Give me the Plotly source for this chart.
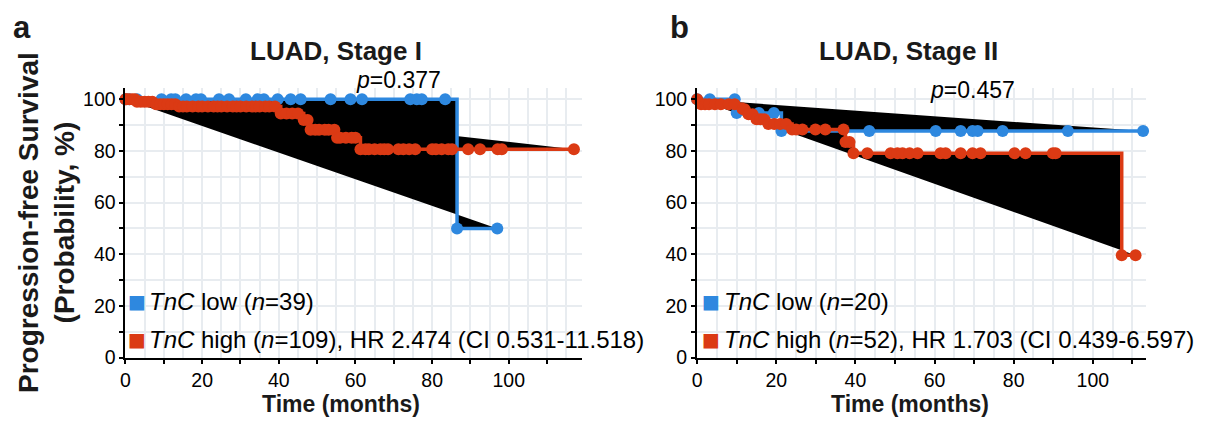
import numpy as np
import plotly.graph_objects as go

# ---------------- data ----------------
# Panel a: LUAD, Stage I
a_low_event_t = [0, 86.5]
a_low_event_s = [100, 50]
a_low_cens_t = [1, 3, 9.4, 11.9, 13, 15.8, 18.4, 19.7, 24.4, 27, 31.4, 34.5, 36.1,
                39.7, 43.1, 45.7, 53.5, 58.7, 61.7, 74.3, 76, 77.3, 83.4, 97]

a_high_event_t = [0, 3, 8, 14, 40.5, 46.5, 48.3, 55.2, 61.3]
a_high_event_s = [100, 99.1, 98.1, 97.2, 94.5, 92.0, 88.2, 85.1, 80.7]
a_high_cens_t = [0.3, 1, 1.8, 2.5, 4, 5, 6, 7, 9, 10, 11, 12, 13,
                 15, 16, 17.5, 19, 20, 21.5, 23, 24, 25, 26.5, 28, 29, 30, 31.5, 33, 34,
                 35, 36.5, 37.5, 39, 42, 43.5, 45, 47.5, 49.5, 50.5, 52, 53, 54.5,
                 56, 57.5, 59, 60, 62.6, 63.5, 65, 66.5, 67.5, 68.5, 71.2, 72.5, 74,
                 75.6, 80, 81, 82.5, 84.2, 85.2, 89.4, 92.5, 97.1, 98.2, 117]

# Panel b: LUAD, Stage II
b_low_event_t = [0, 10, 21.3]
b_low_event_s = [100, 94.7, 87.7]
b_low_cens_t = [3.2, 9.5, 15.6, 19.4, 43.5, 60.3, 66.6, 69.6, 70.9, 77.2, 93.7, 112.7]

b_high_event_t = [0, 1, 11.5, 13, 15, 18, 24, 37.5, 39.5, 107.3]
b_high_event_s = [100, 98.1, 96.2, 94.2, 92.3, 90.4, 88.3, 83.5, 79.1, 39.6]
b_high_cens_t = [2, 3, 4.5, 6, 8, 9.5, 12, 14, 16, 17, 19.5, 21, 22.5, 25, 26.6,
                 29.9, 32.4, 37, 38.5, 43, 48.9, 50.6, 51.9, 53.7, 55.7, 61.5, 62.8,
                 66.6, 69.6, 71.6, 80.2, 83, 89.9, 90.6, 110.8]

titles = ["LUAD, Stage I", "LUAD, Stage II"]
pvalues = ["0.377", "0.457"]
legend_low = ["<i>TnC</i> low (<i>n</i>=39)", "<i>TnC</i> low (<i>n</i>=20)"]
legend_high = ["<i>TnC</i> high (<i>n</i>=109), HR 2.474 (CI 0.531-11.518)",
               "<i>TnC</i> high (<i>n</i>=52), HR 1.703 (CI 0.439-6.597)"]
x_ticks = list(range(0, 120, 10))
y_ticks = list(range(0, 110, 10))

BLUE = "#2E88DF"
RED = "#DB3A14"
FONT = "Liberation Sans, Arial, sans-serif"
W, H = 1209, 429
DX = -3      # horizontal adjustment


def km_points(event_t, event_s, cens_t):
    et = np.asarray(event_t, float)
    es = np.asarray(event_s, float)
    ct = np.asarray(cens_t, float)
    idx = np.searchsorted(et, ct, side="right") - 1
    cs = es[idx]
    t = np.concatenate([et, ct])
    s = np.concatenate([es, cs])
    order = np.argsort(t, kind="stable")
    return t[order], s[order]


def px(x):
    return (x + DX) / W


def py(y):
    return 1 - y / H


fig = go.Figure()

panels = [
    ("x", "y", [(a_low_event_t, a_low_event_s, a_low_cens_t, BLUE),
                (a_high_event_t, a_high_event_s, a_high_cens_t, RED)]),
    ("x2", "y2", [(b_low_event_t, b_low_event_s, b_low_cens_t, BLUE),
                  (b_high_event_t, b_high_event_s, b_high_cens_t, RED)]),
]

# black polygon fills first (drawn underneath)
for xa, ya, groups in panels:
    for et, es, ct, col in groups:
        t, s = km_points(et, es, ct)
        fig.add_trace(go.Scatter(x=t, y=s, xaxis=xa, yaxis=ya, mode="lines",
                                 line=dict(width=0, shape="hv"), fill="toself",
                                 fillcolor="black", hoverinfo="skip", showlegend=False))
# curves
for xa, ya, groups in panels:
    for et, es, ct, col in groups:
        t, s = km_points(et, es, ct)
        fig.add_trace(go.Scatter(x=t, y=s, xaxis=xa, yaxis=ya, mode="lines+markers",
                                 line=dict(width=3.5, shape="hv", color=col),
                                 marker=dict(size=12, color=col),
                                 cliponaxis=False, showlegend=False))

x_ticktext = [str(v) if v % 20 == 0 else "" for v in x_ticks]
y_ticktext = [str(v) if v % 20 == 0 else "" for v in y_ticks]

axis_common = dict(showline=True, linecolor="black", linewidth=2, ticks="outside",
                   ticklen=4, tickwidth=1.5, tickcolor="black", zeroline=False,
                   showgrid=True, gridcolor="#E8ECF0", gridwidth=2,
                   tickfont=dict(family=FONT, size=19.5, color="black"))

dom_y = [py(367), py(90)]
fig.update_layout(
    width=W, height=H, margin=dict(l=0, r=0, t=0, b=0),
    plot_bgcolor="white", paper_bgcolor="white",
    xaxis=dict(domain=[px(124), px(582)], range=[0, 119], anchor="y",
               tickvals=x_ticks, ticktext=x_ticktext,
               minor=dict(dtick=5, showgrid=True, gridcolor="#E8ECF0", gridwidth=2),
               **axis_common),
    yaxis=dict(domain=dom_y, range=[0, 104.5], anchor="x",
               tickvals=y_ticks, ticktext=y_ticktext, **axis_common),
    xaxis2=dict(domain=[px(698), px(1149)], range=[0, 113.5], anchor="y2",
                tickvals=x_ticks, ticktext=x_ticktext,
                minor=dict(dtick=5, showgrid=True, gridcolor="#E8ECF0", gridwidth=2),
                **axis_common),
    yaxis2=dict(domain=dom_y, range=[0, 104.5], anchor="x2",
                tickvals=y_ticks, ticktext=y_ticktext, **axis_common),
)

ann = []
bold = dict(family=FONT, color="#1a1a1a")
# panel letters
ann.append(dict(x=px(20), y=py(28), text="<b>a</b>", font=dict(size=31, **bold)))
ann.append(dict(x=px(680), y=py(28), text="<b>b</b>", font=dict(size=31, **bold)))
# titles
for cx, t in zip([335, 910], titles):
    ann.append(dict(x=px(cx), y=py(52), text=f"<b>{t}</b>", font=dict(size=26, **bold)))
# p-values
for (cx, cy), p in zip([(398, 82), (975, 92)], pvalues):
    ann.append(dict(x=px(cx), y=py(cy), text=f"<i>p</i>={p}",
                    font=dict(family=FONT, size=23, color="black")))
# axis titles
for cx in [340, 912]:
    ann.append(dict(x=px(cx), y=py(415), text="<b>Time (months)</b>",
                    font=dict(size=23, **bold)))
ann.append(dict(x=px(44), y=py(228), text="<b>Progression-free Survival<br>(Probability, %)</b>",
                textangle=-90, font=dict(size=28, **bold)))
# legends
for (sx, tx), lo, hi in zip([(136, 146), (712, 723)], legend_low, legend_high):
    for cy, col, txt in [(309, BLUE, lo), (348, RED, hi)]:
        ann.append(dict(x=px(sx), y=py(cy), text="■",
                        font=dict(family="DejaVu Sans", size=19, color=col)))
        ann.append(dict(x=px(tx), y=py(cy), text=txt, xanchor="left",
                        font=dict(family=FONT, size=24, color="black")))

for a in ann:
    a.setdefault("xanchor", "center")
    a.setdefault("yanchor", "middle")
    a.update(xref="paper", yref="paper", showarrow=False)
fig.update_layout(annotations=ann)

fig.write_html("out.html", config={"displayModeBar": False},
               post_script="document.body.style.margin='0';")
